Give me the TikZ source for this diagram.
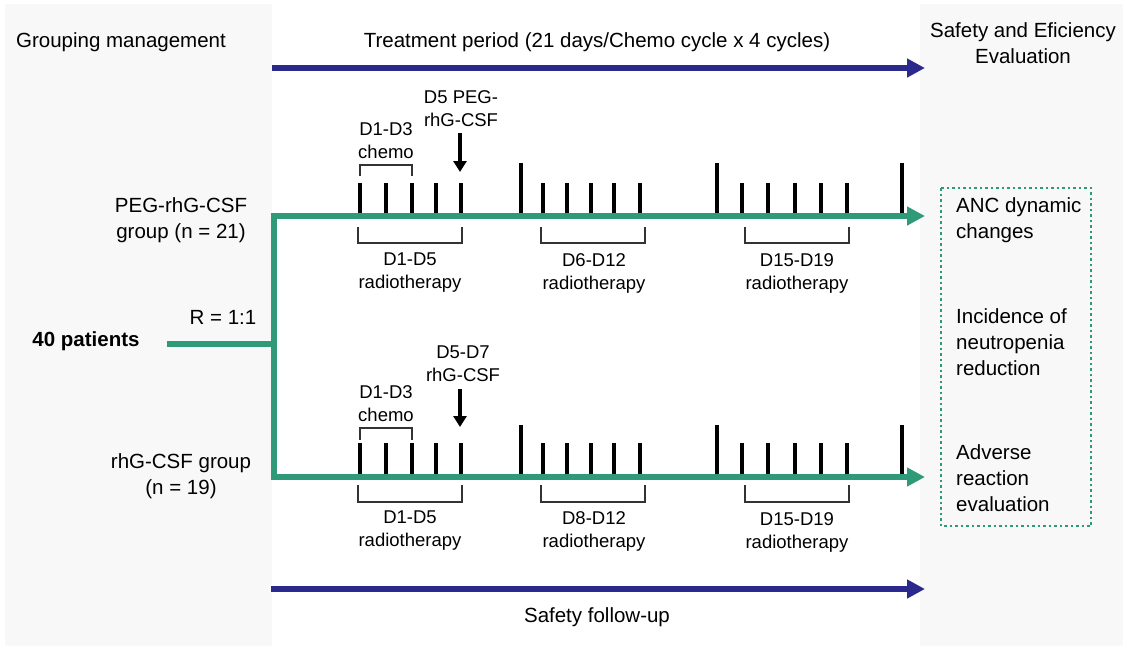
\documentclass[tikz,border=0pt]{standalone}
\usepackage{fontspec}
\setmainfont{Liberation Sans}
\usetikzlibrary{arrows.meta}
\definecolor{grn}{HTML}{2E9A78}
\definecolor{navy}{HTML}{2B2A8C}
\definecolor{panel}{HTML}{F8F8F8}
\definecolor{brk}{HTML}{333333}
\tikzset{
  lbl/.style={font=\fontsize{20.5}{25.5}\selectfont, align=center, inner sep=0pt},
  sml/.style={font=\fontsize{18.5}{23}\selectfont, align=center, inner sep=0pt},
  boxtxt/.style={font=\fontsize{20.5}{26}\selectfont, align=left, inner sep=0pt, anchor=west},
  grline/.style={line width=6pt, color=grn},
  grarrow/.style={line width=6pt, color=grn, -{Triangle[length=18pt,width=18pt]}},
  bluearrow/.style={line width=6pt, color=navy, -{Triangle[length=18pt,width=18pt]}},
  tickmark/.style={line width=3.5pt, black},
  bracket/.style={line width=1.5pt, brk},
  downarrow/.style={line width=4pt, black, -{Triangle[length=11pt,width=13pt]}},
  panelbox/.style={fill=panel, draw=none}
}
\begin{document}
\begin{tikzpicture}[x=1pt,y=-1pt]
\useasboundingbox (0,0) rectangle (1128,651);
\fill[white] (0,0) rectangle (1128,651);
% panels
\path[panelbox] (5,4) rectangle (272,646);
\path[panelbox] (920,4) rectangle (1123,646);

% headers
\node[lbl] (hgroup) at (121,42) {Grouping management};
\node[lbl] (htreat) at (597,42) {Treatment period (21 days/Chemo cycle x 4 cycles)};
\node[lbl] (heval) at (1023,43) {Safety and Eficiency\\Evaluation};

% blue arrows
\coordinate (tb1) at (272,68);
\coordinate (tb2) at (925,68);
\draw[bluearrow] (tb1) -- (tb2);
\coordinate (bb1) at (271,589);
\coordinate (bb2) at (925,589);
\draw[bluearrow] (bb1) -- (bb2);
\node[lbl] (follow) at (597,617) {Safety follow-up};

% left labels
\node[lbl, font=\fontsize{20.5}{25.5}\selectfont\bfseries] (pat) at (86,341) {40 patients};
\node[lbl] (ratio) at (223,317) {R = 1:1};
\node[lbl] (peg) at (181,220) {PEG-rhG-CSF\\group (n = 21)};
\node[lbl] (rhg) at (181,476) {rhG-CSF group\\(n = 19)};

% green structure
\coordinate (p0) at (167,344);
\coordinate (pj) at (274,344);
\coordinate (gt) at (274,216);
\coordinate (gb) at (274,477);
\coordinate (gte) at (925,216);
\coordinate (gbe) at (925,477);
\draw[grline] (p0) -- (pj);
\draw[grline, line cap=rect] (gt) -- (gb);
\draw[grarrow] (gt) -- (gte);
\draw[grarrow] (gb) -- (gbe);

% ticks upper
\foreach \x in {360,386,412,436,461,543,567,591,614,640,742,768,795,821,847}
  \draw[tickmark] (\x,213) -- (\x,183);
\foreach \x in {521,717,902}
  \draw[tickmark] (\x,213) -- (\x,163);
% ticks lower
\foreach \x in {360,386,412,436,461,543,567,591,614,640,742,768,795,821,847}
  \draw[tickmark] (\x,474) -- (\x,443);
\foreach \x in {521,717,902}
  \draw[tickmark] (\x,474) -- (\x,425);

% upper annotations
\draw[bracket] (360,176) -- (360,165) -- (412,165) -- (412,176);
\node[sml] (uchemo) at (386,141) {D1-D3\\chemo};
\node[sml] (upeg) at (461,109) {D5 PEG-\\rhG-CSF};
\coordinate (ua1) at (460,133);
\coordinate (ua2) at (460,172);
\draw[downarrow] (ua1) -- (ua2);
\draw[bracket] (358,227) -- (358,243) -- (462,243) -- (462,227);
\draw[bracket] (541,227) -- (541,243) -- (645,243) -- (645,227);
\draw[bracket] (745,227) -- (745,243) -- (849,243) -- (849,227);
\node[sml] (ur1) at (410,273) {D1-D5\\radiotherapy};
\node[sml] (ur2) at (594,273) {D6-D12\\radiotherapy};
\node[sml] (ur3) at (797,273) {D15-D19\\radiotherapy};

% lower annotations
\draw[bracket] (360,440) -- (360,428) -- (412,428) -- (412,440);
\node[sml] (lchemo) at (386,404) {D1-D3\\chemo};
\node[sml] (lrhg) at (463,364) {D5-D7\\rhG-CSF};
\coordinate (la1) at (460,389);
\coordinate (la2) at (460,427);
\draw[downarrow] (la1) -- (la2);
\draw[bracket] (358,485) -- (358,502) -- (462,502) -- (462,485);
\draw[bracket] (541,485) -- (541,502) -- (645,502) -- (645,485);
\draw[bracket] (745,485) -- (745,502) -- (849,502) -- (849,485);
\node[sml] (lr1) at (410,531) {D1-D5\\radiotherapy};
\node[sml] (lr2) at (594,531) {D8-D12\\radiotherapy};
\node[sml] (lr3) at (797,532) {D15-D19\\radiotherapy};

% evaluation box
\draw[grn, line width=2.5pt, dash pattern=on 2.5pt off 3pt] (941,188) rectangle (1091,526);
\node[boxtxt] (anc) at (956,220) {ANC dynamic\\changes};
\node[boxtxt] (inc) at (956,342) {Incidence of\\neutropenia\\reduction};
\node[boxtxt] (adv) at (956,478) {Adverse\\reaction\\evaluation};
\end{tikzpicture}
\end{document}
